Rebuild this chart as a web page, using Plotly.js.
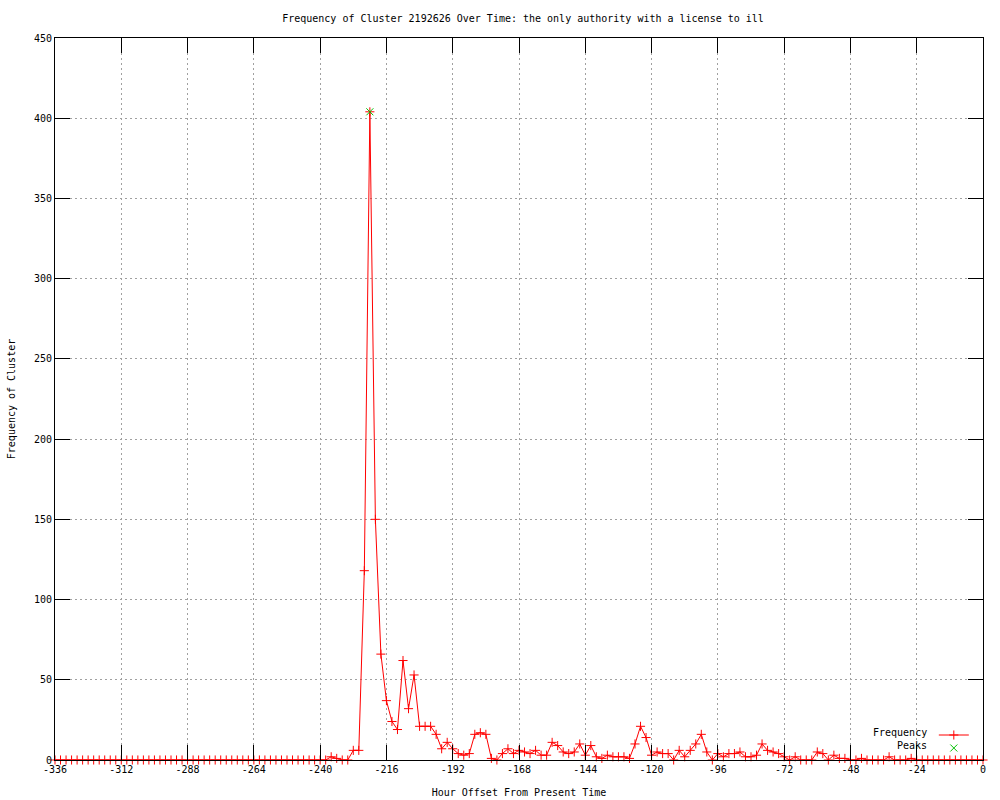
<!DOCTYPE html>
<html>
<head>
<meta charset="utf-8">
<script src="https://cdn.plot.ly/plotly-3.0.1.min.js"></script>
<style>html,body{margin:0;padding:0;background:#fff;}#chart{width:1000px;height:800px;}</style>
</head>
<body>
<div id="chart"></div>
<script>
// Hour offsets (x) of each sample, every 2 hours
const hours = [-336,-334,-332,-330,-328,-326,-324,-322,-320,-318,-316,-314,-312,-310,-308,-306,-304,-302,-300,-298,
  -296,-294,-292,-290,-288,-286,-284,-282,-280,-278,-276,-274,-272,-270,-268,-266,-264,-262,-260,-258,
  -256,-254,-252,-250,-248,-246,-244,-242,-240,-238,-236,-234,-232,-230,-228,-226,-224,-222,-220,-218,
  -216,-214,-212,-210,-208,-206,-204,-202,-200,-198,-196,-194,-192,-190,-188,-186,-184,-182,-180,-178,
  -176,-174,-172,-170,-168,-166,-164,-162,-160,-158,-156,-154,-152,-150,-148,-146,-144,-142,-140,-138,
  -136,-134,-132,-130,-128,-126,-124,-122,-120,-118,-116,-114,-112,-110,-108,-106,-104,-102,-100,-98,
  -96,-94,-92,-90,-88,-86,-84,-82,-80,-78,-76,-74,-72,-70,-68,-66,-64,-62,-60,-58,
  -56,-54,-52,-50,-48,-46,-44,-42,-40,-38,-36,-34,-32,-30,-28,-26,-24,-22,-20,-18,
  -16,-14,-12,-10,-8,-6,-4,-2,0];

// Frequency of cluster at each hour offset
const frequency = [0,0,0,0,0,0,0,0,0,0,0,0,0,0,0,0,0,0,0,0,
  0,0,0,0,0,0,0,0,0,0,0,0,0,0,0,0,0,0,0,0,
  0,0,0,0,0,0,0,0,0,
  0,2,1,0,0,6,6,118,404,150,
  66,37,24,19,62,32,53,21,21,21,
  16,7,11,7,4,3,4,16,17,16,
  1,0,4,7,4,6,5,4,6,3,
  3,11,9,5,4,5,10,3,9,2,
  1,3,2,2,2,1,10,21,14,3,
  5,4,4,0,6,2,6,10,16,5,
  0,4,2,4,4,5,2,2,3,10,
  6,5,4,2,0,2,0,0,0,5,
  4,0,3,1,1,0,0,1,0,0,
  0,0,2,0,0,0,1,
  0,0,0,0,0,0,0,0,0,0,0,0,0];

// Detected peaks
const peakHours = [-222];
const peakValues = [404];

// Tick labels
const xTickVals = [-336,-312,-288,-264,-240,-216,-192,-168,-144,-120,-96,-72,-48,-24,0];
const xTickText = ["-336","-312","-288","-264","-240","-216","-192","-168","-144","-120","-96","-72","-48","-24","0"];
const yTickVals = [0,50,100,150,200,250,300,350,400,450];
const yTickText = ["0","50","100","150","200","250","300","350","400","450"];

const FONT = "DejaVu Sans Mono, Liberation Mono, monospace";

const traces = [
  {
    x: hours, y: frequency, name: "Frequency", type: "scatter", mode: "lines+markers",
    line: {color: "#ff0000", width: 1},
    marker: {symbol: "cross-thin-open", size: 6.5, color: "#ff0000", line: {color: "#ff0000", width: 1}},
    cliponaxis: false, legend: "legend"
  },
  {
    x: peakHours, y: peakValues, name: "Peaks", type: "scatter", mode: "markers",
    marker: {symbol: "x-thin-open", size: 7, color: "#00c000", line: {color: "#00c000", width: 1}},
    cliponaxis: false, legend: "legend2"
  }
];

const axisCommon = {
  showline: true, linecolor: "#000", linewidth: 1, mirror: "ticks",
  ticks: "inside", ticklen: 15, tickwidth: 1, tickcolor: "#000",
  showgrid: true, gridcolor: "#a0a0a0", gridwidth: 1, griddash: "2px,3px",
  zeroline: false, tickmode: "array",
  tickfont: {family: FONT, size: 10, color: "#000"}
};

const legendCommon = {
  xanchor: "left", yanchor: "top",
  bgcolor: "rgba(0,0,0,0)", borderwidth: 0,
  font: {family: FONT, size: 1, color: "rgba(0,0,0,0)"},
  itemwidth: 30
};

const layout = {
  width: 1000, height: 800,
  paper_bgcolor: "#fff", plot_bgcolor: "#fff",
  font: {family: FONT, size: 10, color: "#000"},
  margin: {l: 55, r: 17, t: 38, b: 40, pad: 0, autoexpand: false},
  title: {text: "Frequency of Cluster 2192626 Over Time: the only authority with a license to ill",
          font: {family: FONT, size: 10, color: "#000"},
          x: 0.523, xref: "container", xanchor: "center", y: 0.977, yref: "container", yanchor: "middle"},
  xaxis: Object.assign({}, axisCommon, {
    range: [-336, 0], tickvals: xTickVals, ticktext: xTickText,
    title: {text: "Hour Offset From Present Time", font: {family: FONT, size: 10, color: "#000"}, standoff: 14}
  }),
  yaxis: Object.assign({}, axisCommon, {
    range: [0, 450], tickvals: yTickVals, ticktext: yTickText,
    title: {text: "Frequency of Cluster", font: {family: FONT, size: 10, color: "#000"}, standoff: 16}
  }),
  showlegend: true,
  legend: Object.assign({}, legendCommon, {x: 0.947, y: 0.0547}),
  legend2: Object.assign({}, legendCommon, {x: 0.947, y: 0.0367}),
  annotations: [
    {text: "Frequency", xref: "paper", yref: "paper", x: 0.942, y: 0.0374, xanchor: "right", yanchor: "middle", showarrow: false, font: {family: FONT, size: 10, color: "#000"}},
    {text: "Peaks", xref: "paper", yref: "paper", x: 0.942, y: 0.0194, xanchor: "right", yanchor: "middle", showarrow: false, font: {family: FONT, size: 10, color: "#000"}}
  ]
};

Plotly.newPlot("chart", traces, layout, {displayModeBar: false, staticPlot: true});
</script>
</body>
</html>
